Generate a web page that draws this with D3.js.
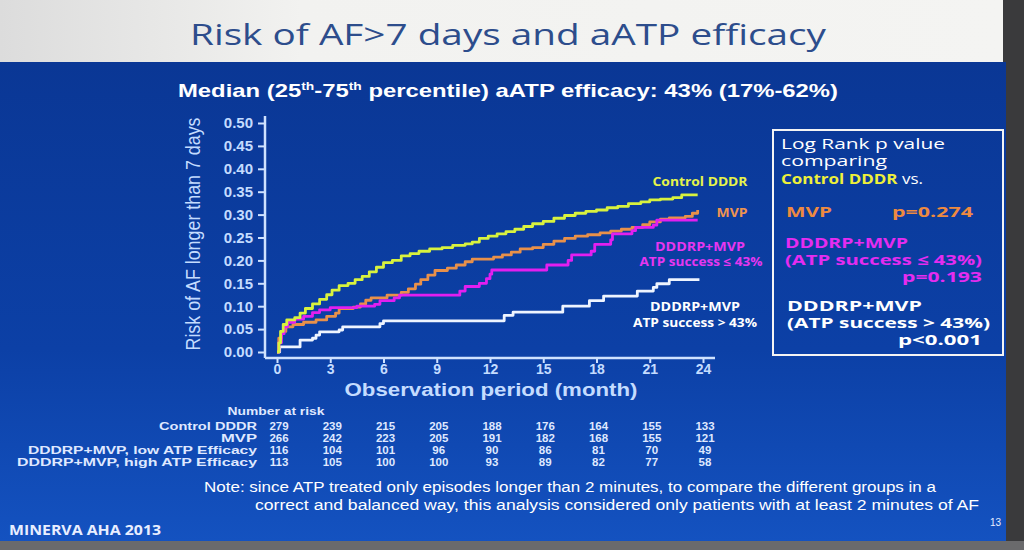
<!DOCTYPE html>
<html><head><meta charset="utf-8">
<script src="https://cdn.jsdelivr.net/npm/d3@7"></script>
<style>body{margin:0;background:#333;}svg{display:block;}</style>
</head><body>
<svg id="c" width="1024" height="550"></svg>
<script>
// ---------- data ----------
const months = [0,3,6,9,12,15,18,21,24];
const yTicks = [0,0.05,0.10,0.15,0.20,0.25,0.30,0.35,0.40,0.45,0.50];
const groups = ["Control DDDR","MVP","DDDRP+MVP, low ATP Efficacy","DDDRP+MVP, high ATP Efficacy"];
const atRiskControl = [279,239,215,205,188,176,164,155,133];
const atRiskMVP     = [266,242,223,205,191,182,168,155,121];
const atRiskLow     = [116,104,101,96,90,86,81,70,49];
const atRiskHigh    = [113,105,100,100,93,89,82,77,58];

const controlDDDR = [[0,0],[0.1,0.02],[0.2,0.045],[0.35,0.06],[0.55,0.07],[1.0,0.075],[1.3,0.085],[1.6,0.095],[2.0,0.105],[2.4,0.115],[2.8,0.125],[3.1,0.135],[3.5,0.145],[4.0,0.15],[4.4,0.158],[4.8,0.165],[5.2,0.175],[5.6,0.185],[6.0,0.195],[6.5,0.2],[7.0,0.21],[7.5,0.215],[8.0,0.22],[8.6,0.225],[9.3,0.228],[9.9,0.233],[10.6,0.236],[11.0,0.24],[11.4,0.248],[11.9,0.253],[12.4,0.258],[12.9,0.263],[13.4,0.268],[13.9,0.274],[14.4,0.28],[15.0,0.285],[15.6,0.292],[16.2,0.298],[16.8,0.303],[17.4,0.307],[18.0,0.31],[18.6,0.315],[19.2,0.318],[19.8,0.324],[20.5,0.328],[21.0,0.332],[21.6,0.334],[22.3,0.337],[22.8,0.343],[23.7,0.343]];
const mvp = [[0,0],[0.1,0.03],[0.25,0.045],[0.5,0.055],[0.9,0.06],[1.5,0.065],[2.2,0.07],[2.8,0.078],[3.3,0.085],[3.5,0.095],[4.3,0.098],[4.7,0.105],[5.0,0.113],[5.3,0.118],[6.2,0.124],[7.0,0.13],[7.4,0.138],[7.8,0.148],[8.1,0.158],[8.5,0.168],[8.9,0.178],[9.6,0.183],[10.1,0.19],[10.6,0.197],[11.0,0.203],[12.2,0.207],[12.7,0.212],[13.2,0.218],[13.7,0.225],[14.4,0.228],[15.0,0.235],[15.6,0.242],[16.2,0.248],[16.8,0.253],[17.5,0.256],[18.2,0.26],[18.8,0.264],[19.4,0.268],[20.0,0.272],[20.6,0.278],[21.0,0.284],[21.6,0.29],[22.1,0.293],[23.0,0.296],[23.4,0.303],[23.7,0.31]];
const lowATP = [[0,0],[0.1,0.02],[0.25,0.04],[0.4,0.055],[0.6,0.065],[1.0,0.072],[1.5,0.078],[2.0,0.086],[2.4,0.092],[3.0,0.097],[4.5,0.1],[5.5,0.104],[5.8,0.112],[6.6,0.118],[6.9,0.124],[10.1,0.124],[10.3,0.133],[10.6,0.143],[11.4,0.15],[11.8,0.16],[12.0,0.17],[12.1,0.179],[15.0,0.179],[15.2,0.19],[16.4,0.2],[16.6,0.212],[17.7,0.22],[17.9,0.235],[18.8,0.245],[18.9,0.258],[20.0,0.265],[20.2,0.272],[21.2,0.277],[21.4,0.288],[23.7,0.288]];
const highATP = [[0,0],[0.15,0.011],[1.2,0.011],[1.3,0.026],[2.0,0.03],[2.2,0.037],[2.4,0.044],[3.5,0.048],[3.7,0.055],[5.8,0.062],[6.0,0.068],[12.6,0.068],[12.8,0.08],[13.3,0.087],[15.9,0.087],[16.1,0.1],[17.4,0.1],[17.6,0.112],[18.4,0.122],[20.1,0.122],[20.3,0.133],[21.2,0.141],[21.4,0.149],[22.1,0.158],[23.8,0.158]];

// ---------- drawing ----------
const svg = d3.select("#c");
const defs = svg.append("defs");
const g1 = defs.append("linearGradient").attr("id","bg").attr("x1",0).attr("y1",0).attr("x2",0).attr("y2",1);
g1.append("stop").attr("offset","0%").attr("stop-color","#0a3795");
g1.append("stop").attr("offset","60%").attr("stop-color","#0c40a6");
g1.append("stop").attr("offset","100%").attr("stop-color","#1452c0");
const g2 = defs.append("linearGradient").attr("id","hd").attr("x1",0).attr("y1",0).attr("x2",1).attr("y2",0);
g2.append("stop").attr("offset","0%").attr("stop-color","#dcdcdc");
g2.append("stop").attr("offset","30%").attr("stop-color","#f2f2f0");
g2.append("stop").attr("offset","100%").attr("stop-color","#f4f4f2");

svg.append("rect").attr("width",1024).attr("height",550).attr("fill","#3a3a3c");
svg.append("rect").attr("x",0).attr("y",0).attr("width",1003).attr("height",62).attr("fill","url(#hd)");
svg.append("rect").attr("x",0).attr("y",62).attr("width",1006).attr("height",479).attr("fill","url(#bg)");
svg.append("rect").attr("x",0).attr("y",541).attr("width",1024).attr("height",9).attr("fill","#6a6a6c");

// title
svg.append("text").attr("x",508).attr("y",45).attr("text-anchor","middle")
  .attr("font-family","Open Sans").attr("font-size",30).attr("fill","#2d4d8c")
  .attr("textLength",636).attr("lengthAdjust","spacingAndGlyphs")
  .text("Risk of AF>7 days and aATP efficacy");

// subtitle
const sub = svg.append("text").attr("x",178).attr("y",97)
  .attr("font-family","Liberation Sans, Arial").attr("font-size",19).attr("font-weight","bold").attr("fill","#ffffff")
  .attr("textLength",660).attr("lengthAdjust","spacingAndGlyphs");
sub.append("tspan").text("Median (25");
sub.append("tspan").attr("font-size",11).attr("dy",-7).text("th");
sub.append("tspan").attr("dy",7).text("-75");
sub.append("tspan").attr("font-size",11).attr("dy",-7).text("th");
sub.append("tspan").attr("dy",7).text(" percentile) aATP efficacy: 43% (17%-62%)");

// scales
const x = d3.scaleLinear().domain([0,24]).range([277,703]);
const y = d3.scaleLinear().domain([0,0.5]).range([352,123]);
const axisColor = "#cfe2ff";

const gx = svg.append("g").attr("transform","translate(0,358)")
  .call(d3.axisBottom(x).tickValues(months).tickSize(5).tickPadding(1).tickSizeOuter(0).tickFormat(d3.format("d")));
const gy = svg.append("g").attr("transform","translate(265,0)")
  .call(d3.axisLeft(y).tickValues(yTicks).tickSize(7).tickSizeOuter(0).tickFormat(d3.format(".2f")));
[gx,gy].forEach(g=>{
  g.select(".domain").remove();
  g.selectAll("line").attr("stroke",axisColor).attr("stroke-width",2);
  g.selectAll("text").attr("fill","#c4dcff").attr("font-family","Liberation Sans, Arial")
    .attr("font-weight","bold").attr("font-size",14);
});
gy.selectAll("text").attr("font-size",15).attr("dx","-2");
svg.append("line").attr("x1",265).attr("x2",715).attr("y1",358).attr("y2",358).attr("stroke",axisColor).attr("stroke-width",2.5);
svg.append("line").attr("x1",265).attr("x2",265).attr("y1",116).attr("y2",358).attr("stroke",axisColor).attr("stroke-width",2.5);

// axis titles
svg.append("text").attr("transform","translate(200,234) rotate(-90)").attr("text-anchor","middle")
  .attr("font-family","Liberation Sans, Arial").attr("font-size",20).attr("fill","#c4dcff")
  .attr("textLength",233).attr("lengthAdjust","spacingAndGlyphs")
  .text("Risk of AF longer than 7 days");
svg.append("text").attr("x",491).attr("y",396).attr("text-anchor","middle")
  .attr("font-family","Liberation Sans, Arial").attr("font-size",18).attr("font-weight","bold").attr("fill","#c4dcff")
  .attr("textLength",293).attr("lengthAdjust","spacingAndGlyphs")
  .text("Observation period (month)");

// curves
const line = d3.line().x(d=>x(d[0])).y(d=>y(d[1])).curve(d3.curveStepAfter);
const series = [
  {data:highATP, color:"#eef4ff"},
  {data:mvp, color:"#e8904a"},
  {data:lowATP, color:"#e21ff0"},
  {data:controlDDDR, color:"#d8f23e"}
];
svg.append("g").selectAll("path").data(series).join("path")
  .attr("d",d=>line(d.data)).attr("fill","none").attr("stroke",d=>d.color)
  .attr("stroke-width",2.8).attr("stroke-linejoin","round");

// curve labels
const labF = "Open Sans";
function lab(t,xx,yy,col,w,anchor){
  svg.append("text").attr("x",xx).attr("y",yy).attr("text-anchor",anchor||"middle")
    .attr("font-family",labF).attr("font-weight",700).attr("font-size",12).attr("fill",col)
    .attr("textLength",w).attr("lengthAdjust","spacingAndGlyphs").text(t);
}
lab("Control DDDR",700,186,"#e6f44a",95);
lab("MVP",732,217,"#ee9450",31);
lab("DDDRP+MVP",700,251,"#e636f0",90);
lab("ATP success ≤ 43%",701,266,"#e636f0",123);
lab("DDDRP+MVP",695,311,"#ffffff",90);
lab("ATP success > 43%",695,327,"#ffffff",124);

// box
svg.append("rect").attr("x",773).attr("y",130).attr("width",230).attr("height",225)
  .attr("fill","none").attr("stroke","#f4f4f4").attr("stroke-width",2);
function bt(t,xx,yy,col,w,bold,anchor){
  return svg.append("text").attr("x",xx).attr("y",yy).attr("text-anchor",anchor||"start")
    .attr("font-family","Open Sans").attr("font-weight",bold?700:400).attr("font-size",14).attr("fill",col)
    .attr("textLength",w).attr("lengthAdjust","spacingAndGlyphs").text(t);
}
bt("Log Rank p value",781,149,"#ffffff",164,false);
bt("comparing",781,166,"#ffffff",106,false);
const cv = svg.append("text").attr("x",781).attr("y",184).attr("font-family","Open Sans").attr("font-size",15)
  .attr("textLength",142).attr("lengthAdjust","spacingAndGlyphs");
cv.append("tspan").attr("font-weight",700).attr("fill","#eef03a").text("Control DDDR");
cv.append("tspan").attr("fill","#ffffff").text(" vs.");
bt("MVP",786,217,"#ee8a40",46,true);
bt("p=0.274",892,217,"#ee8a40",81,true);
bt("DDDRP+MVP",785,248,"#e52cf0",123,true);
bt("(ATP success ≤ 43%)",785,265,"#e52cf0",197,true);
bt("p=0.193",982,282,"#e52cf0",80,true,"end");
bt("DDDRP+MVP",787,311,"#ffffff",135,true);
bt("(ATP success > 43%)",787,328,"#ffffff",203,true);
bt("p<0.001",982,345,"#ffffff",84,true,"end");

// number at risk table
const tf = "Liberation Sans, Arial";
svg.append("text").attr("x",276).attr("y",415).attr("text-anchor","middle")
  .attr("font-family",tf).attr("font-size",11).attr("font-weight","bold").attr("fill","#dfe8ff")
  .attr("textLength",97).attr("lengthAdjust","spacingAndGlyphs").text("Number at risk");
const rows = [atRiskControl, atRiskMVP, atRiskLow, atRiskHigh];
const rowY = [430,442,454,466];
const labW = [98,36,229,240];
rows.forEach((r,i)=>{
  svg.append("text").attr("x",257).attr("y",rowY[i]).attr("text-anchor","end")
    .attr("font-family",tf).attr("font-size",11).attr("font-weight","bold").attr("fill","#dfe8ff")
    .attr("textLength",labW[i]).attr("lengthAdjust","spacingAndGlyphs").text(groups[i]);
  svg.append("g").selectAll("text").data(r).join("text")
    .attr("x",(d,j)=>x(months[j])+2).attr("y",rowY[i]).attr("text-anchor","middle")
    .attr("font-family",tf).attr("font-size",11.5).attr("font-weight","bold").attr("fill","#dfe8ff")
    .text(d=>d);
});

// note
svg.append("text").attr("x",204).attr("y",492).attr("font-family",tf).attr("font-size",14).attr("fill","#ffffff")
  .attr("textLength",732).attr("lengthAdjust","spacingAndGlyphs")
  .text("Note: since ATP treated only episodes longer than 2 minutes, to compare the different groups in a");
svg.append("text").attr("x",255).attr("y",510).attr("font-family",tf).attr("font-size",14).attr("fill","#ffffff")
  .attr("textLength",724).attr("lengthAdjust","spacingAndGlyphs")
  .text("correct and balanced way, this analysis considered only patients with at least 2 minutes of AF");
svg.append("text").attr("x",990).attr("y",526).attr("font-family",tf).attr("font-size",10).attr("fill","#e8eeff").text("13");
svg.append("text").attr("x",9).attr("y",535).attr("font-family","Open Sans").attr("font-weight",700).attr("font-size",14)
  .attr("fill","#e8eeff").attr("textLength",152).attr("lengthAdjust","spacingAndGlyphs").text("MINERVA AHA 2013");
</script>
</body></html>
